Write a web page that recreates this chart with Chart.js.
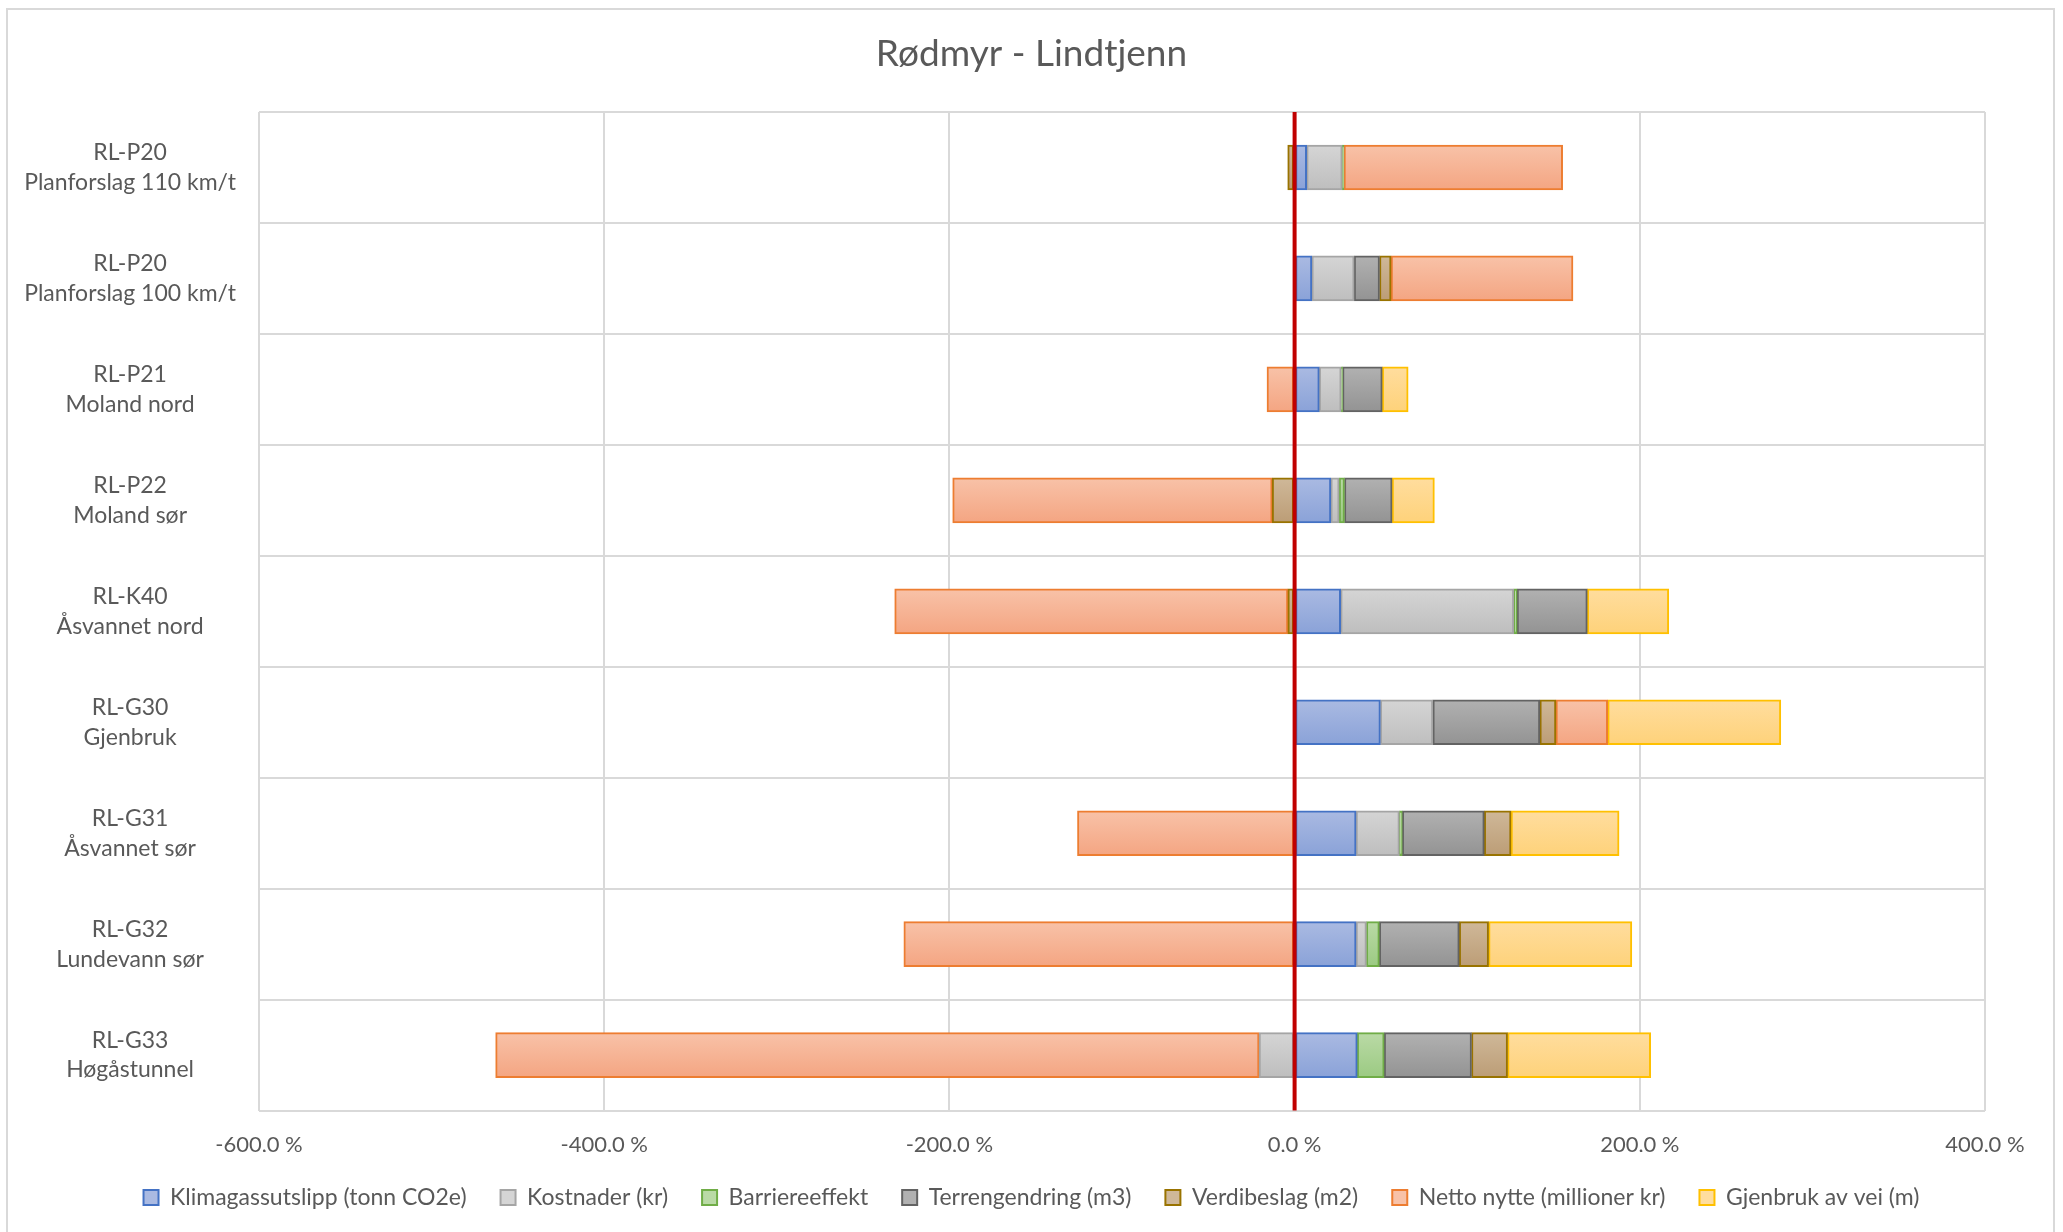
<!DOCTYPE html>
<html>
<head>
<meta charset="utf-8">
<script src="https://cdn.jsdelivr.net/npm/chart.js@4"></script>
<style>
  html, body { margin: 0; padding: 0; background: #ffffff; }
  #wrap { position: absolute; left: 0; top: 0; width: 2063px; height: 1232px; }
  #frame { position: absolute; left: 6px; top: 8px; width: 2045px; height: 1240px;
           border: 2px solid #d9d9d9; pointer-events: none; }
</style>
</head>
<body>
<div id="wrap"><canvas id="chart"></canvas></div>
<div id="frame"></div>
<script>
// Alternativer (kategorier), vist ovenfra og ned
const categories = [
  ["RL-P20", "Planforslag 110 km/t"],
  ["RL-P20", "Planforslag 100 km/t"],
  ["RL-P21", "Moland nord"],
  ["RL-P22", "Moland sør"],
  ["RL-K40", "Åsvannet nord"],
  ["RL-G30", "Gjenbruk"],
  ["RL-G31", "Åsvannet sør"],
  ["RL-G32", "Lundevann sør"],
  ["RL-G33", "Høgåstunnel"],
];

// Prosentverdier per tema
const klimagass   = [7.0, 10.0, 14.3, 21.0, 26.7, 49.7, 35.6, 35.6, 36.3];
const kostnader   = [20.6, 24.5, 12.7, 4.8, 100.3, 30.4, 25.1, 6.0, -20.6];
const barriere    = [1.0, -0.6, 0.8, 3.1, 1.9, -0.6, 1.7, 7.5, 15.6];
const terreng     = [0, 14.7, 23.0, 27.6, 40.7, 62.0, 47.5, 46.3, 50.6];
const verdibeslag = [-4.0, 6.7, 0, -13.0, -3.9, 9.3, 15.5, 17.0, 20.9];
const nettoNytte  = [126.7, 105.4, -16.0, -185.1, -227.8, 30.0, -125.8, -226.4, -442.3];
const gjenbruk    = [0, 0, 15.0, 24.5, 47.2, 100.3, 62.6, 83.0, 82.9];

const seriesNames = [
  "Klimagassutslipp (tonn CO2e)",
  "Kostnader (kr)",
  "Barriereeffekt",
  "Terrengendring (m3)",
  "Verdibeslag (m2)",
  "Netto nytte (millioner kr)",
  "Gjenbruk av vei (m)",
];
const seriesData = [klimagass, kostnader, barriere, terreng, verdibeslag, nettoNytte, gjenbruk];

const chartTitle = "Rødmyr - Lindtjenn";

// Akseverdier
const xMin = -600;
const xMax = 400;
const xStep = 200;

// Farger: kant, topp og bunn av gradienten
const borderColors = ["#4472c4", "#a5a5a5", "#70ad47", "#636363", "#997300", "#ed7d31", "#ffc000"];
const topColors    = ["#aabae2", "#d5d5d5", "#badaa6", "#b1b1b1", "#cfb899", "#f8c2a8", "#ffdd9e"];
const bottomColors = ["#8aa2d8", "#bebebe", "#9bca82", "#939393", "#bc9d76", "#f4a582", "#fed27a"];

const BAR = 45;
const TEXT = "#595959";
const FONT = "Lato, 'Open Sans', sans-serif";

// Gradient fra lys topp til mørkere bunn for hver stolpe
function shade(i) {
  return (ctx) => {
    const chart = ctx.chart;
    const y = chart.scales && chart.scales.y;
    if (!chart.chartArea || !y || ctx.dataIndex === undefined) return topColors[i];
    const c = y.getPixelForValue(ctx.dataIndex);
    const g = chart.ctx.createLinearGradient(0, c - BAR / 2, 0, c + BAR / 2);
    g.addColorStop(0, topColors[i]);
    g.addColorStop(1, bottomColors[i]);
    return g;
  };
}

// Rød linje ved 0 %, tegnet over stolpene
const zeroLine = {
  id: "zeroLine",
  afterDatasetsDraw(chart) {
    const { ctx, chartArea, scales } = chart;
    const x = scales.x.getPixelForValue(0);
    ctx.save();
    ctx.strokeStyle = "#c00000";
    ctx.lineWidth = 4;
    ctx.beginPath();
    ctx.moveTo(x, chartArea.top);
    ctx.lineTo(x, chartArea.bottom);
    ctx.stroke();
    ctx.restore();
  },
};

// Tittel midt på hele lerretet
const centeredTitle = {
  id: "centeredTitle",
  afterDraw(chart) {
    const { ctx } = chart;
    ctx.save();
    ctx.fillStyle = TEXT;
    ctx.font = "37px " + FONT;
    ctx.textAlign = "center";
    ctx.textBaseline = "middle";
    ctx.fillText(chartTitle, chart.width / 2, 54);
    ctx.restore();
  },
};

const datasets = seriesNames.map((name, i) => ({
  label: name,
  data: seriesData[i],
  backgroundColor: shade(i),
  borderColor: borderColors[i],
  borderWidth: 2,
  borderSkipped: false,
  barThickness: BAR,
}));

new Chart(document.getElementById("chart"), {
  type: "bar",
  plugins: [zeroLine, centeredTitle],
  data: { labels: categories, datasets: datasets },
  options: {
    indexAxis: "y",
    responsive: true,
    maintainAspectRatio: false,
    animation: false,
    layout: { padding: { left: 0, right: 0, top: 112, bottom: 13 } },
    scales: {
      x: {
        stacked: true,
        min: xMin,
        max: xMax,
        afterFit: (scale) => { scale.height -= 27; },
        ticks: {
          stepSize: xStep,
          padding: 21,
          color: TEXT,
          font: { family: FONT, size: 22 },
          callback: (v) => v.toFixed(1).replace(".", ",") + " %",
        },
        grid: { color: "#d9d9d9", lineWidth: 2, drawTicks: false },
        border: { display: false },
      },
      y: {
        stacked: true,
        afterFit: (scale) => { scale.width = 259; },
        ticks: {
          crossAlign: "center",
          padding: 23,
          color: TEXT,
          font: { family: FONT, size: 23, lineHeight: 1.3 },
        },
        grid: { color: "#d9d9d9", lineWidth: 2, drawTicks: false, offset: true },
        border: { display: false },
      },
      // tom akse til høyre, gir luft på høyre side av plottet
      yRight: {
        type: "category",
        position: "right",
        afterFit: (scale) => { scale.width = 78; },
        ticks: { display: false },
        grid: { display: false, drawTicks: false },
        border: { display: false },
      },
    },
    plugins: {
      tooltip: { enabled: false },
      title: { display: false },
      legend: {
        position: "bottom",
        labels: {
          color: TEXT,
          font: { family: FONT, size: 23 },
          boxWidth: 15,
          boxHeight: 15,
          padding: 34,
          generateLabels: (chart) => chart.data.datasets.map((ds, i) => ({
            text: ds.label,
            fillStyle: topColors[i],
            strokeStyle: borderColors[i],
            lineWidth: 2,
            fontColor: TEXT,
            hidden: false,
            datasetIndex: i,
          })),
        },
      },
    },
  },
});
</script>
</body>
</html>
